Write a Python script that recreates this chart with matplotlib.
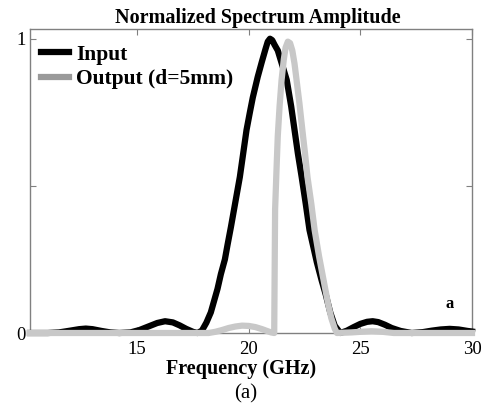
import matplotlib
matplotlib.use("Agg")
import matplotlib.pyplot as plt
from matplotlib.lines import Line2D

# ---- data ----
freq_in = [10.2, 11.0, 11.5, 12.0, 12.4, 12.7, 13.0, 13.4, 13.8, 14.2, 14.7, 15.1, 15.5, 15.9,
           16.25, 16.6, 16.9, 17.2, 17.5, 17.7,
           17.9, 18.1, 18.3, 18.45, 18.6, 18.75, 18.93, 19.05, 19.2, 19.4, 19.6, 19.75, 19.9,
           20.05, 20.18, 20.4, 20.58, 20.75, 20.85, 20.95, 21.05, 21.15, 21.3, 21.5, 21.7,
           21.9, 22.05, 22.2, 22.37, 22.55, 22.72, 22.9, 23.05, 23.26, 23.45, 23.65, 23.85,
           24.1, 24.4, 24.7, 25.0, 25.3, 25.55, 25.8, 26.1, 26.4, 26.8, 27.3, 27.8, 28.2,
           28.6, 29.0, 29.4, 29.8, 30.0]
amp_in = [0.0, 0.0, 0.002, 0.008, 0.013, 0.015, 0.013, 0.007, 0.002, 0.0, 0.002, 0.01, 0.022, 0.034,
          0.04, 0.036, 0.026, 0.014, 0.004, 0.0,
          0.008, 0.035, 0.07, 0.11, 0.15, 0.2, 0.25, 0.3, 0.36, 0.445, 0.53, 0.61, 0.69,
          0.75, 0.80, 0.87, 0.92, 0.965, 0.99, 1.0, 0.995, 0.98, 0.96, 0.91, 0.86,
          0.77, 0.69, 0.61, 0.53, 0.44, 0.35, 0.29, 0.24, 0.18, 0.13, 0.07, 0.025,
          0.0, 0.008, 0.02, 0.031, 0.038, 0.04, 0.037, 0.028, 0.017, 0.007, 0.0, 0.003, 0.008,
          0.012, 0.014, 0.012, 0.007, 0.005]

freq_out = [10.2, 18.2, 18.5, 18.8, 19.1, 19.4, 19.7, 20.0, 20.3, 20.6, 20.85, 21.0, 21.14,
            21.18, 21.25, 21.3, 21.38, 21.47, 21.57, 21.65, 21.75, 21.85, 21.95, 22.05, 22.14,
            22.27, 22.4, 22.52, 22.63, 22.8, 22.95, 23.15, 23.4, 23.55, 23.7, 23.85, 23.95,
            24.6, 25.0, 25.5, 26.0, 26.5, 30.0]
amp_out = [0.0, 0.0, 0.004, 0.01, 0.017, 0.022, 0.025, 0.024, 0.02, 0.013, 0.006, 0.002, 0.0,
           0.42, 0.57, 0.67, 0.77, 0.86, 0.93, 0.97, 0.99, 0.985, 0.96, 0.915, 0.86,
           0.78, 0.69, 0.61, 0.53, 0.44, 0.35, 0.26, 0.16, 0.1, 0.05, 0.015, 0.0,
           0.002, 0.004, 0.006, 0.004, 0.0, 0.0]

labels = ["Input", "Output (d=5mm)"]
title = "Normalized Spectrum Amplitude"
xlabel = "Frequency (GHz)"
xticks = [15, 20, 25, 30]
yticks = [0, 0.5, 1]
yticklabels = ["0", "", "1"]

plt.rcParams['font.family'] = ['Liberation Serif', 'DejaVu Serif']

fig = plt.figure(figsize=(4.82, 4.11), dpi=100)
ax = fig.add_axes([30/482, 1-333/411, 442/482, 304/411])

ax.plot(freq_in, amp_in, color='black', lw=4.5, solid_joinstyle='round', clip_on=False, zorder=3)
ax.plot(freq_out, amp_out, color='#c8c8c8', lw=4.5, solid_joinstyle='round', clip_on=False, zorder=4)

ax.set_xlim(10.2, 30)
ax.set_ylim(0, 1.033)
ax.set_xticks(xticks)
ax.set_xticklabels([str(t) for t in xticks], fontsize=13.5)
ax.set_yticks(yticks)
ax.set_yticklabels(yticklabels, fontsize=13.5)
ax.tick_params(direction='in', length=4, color='#808080', top=True, right=True, pad=3)
ax.tick_params(axis='x', pad=6)
for s in ax.spines.values():
    s.set_color('#808080')
    s.set_linewidth(1.0)

ax.set_title(title, fontsize=14.5, fontweight='bold', pad=4, x=0.516)
ax.set_xlabel(xlabel, fontsize=14.5, fontweight='bold', labelpad=1)
ax.xaxis.set_label_coords(0.478, -0.085)

handles = [Line2D([], [], color='black', lw=4.5),
           Line2D([], [], color='#9a9a9a', lw=4.5)]
ax.legend(handles, labels, loc='upper left', bbox_to_anchor=(-0.005, 0.99), frameon=False,
          prop={'weight': 'bold', 'size': 15.5}, handlelength=1.3, handletextpad=0.35,
          labelspacing=0.2, borderaxespad=0.2)

ax.text(29.0, 0.10, "a", fontsize=12, fontweight='bold', ha='center', va='center')
fig.text(246/482, 1-394/411, "(a)", fontsize=15, ha='center', va='center')

fig.savefig("out.png", dpi=100)
